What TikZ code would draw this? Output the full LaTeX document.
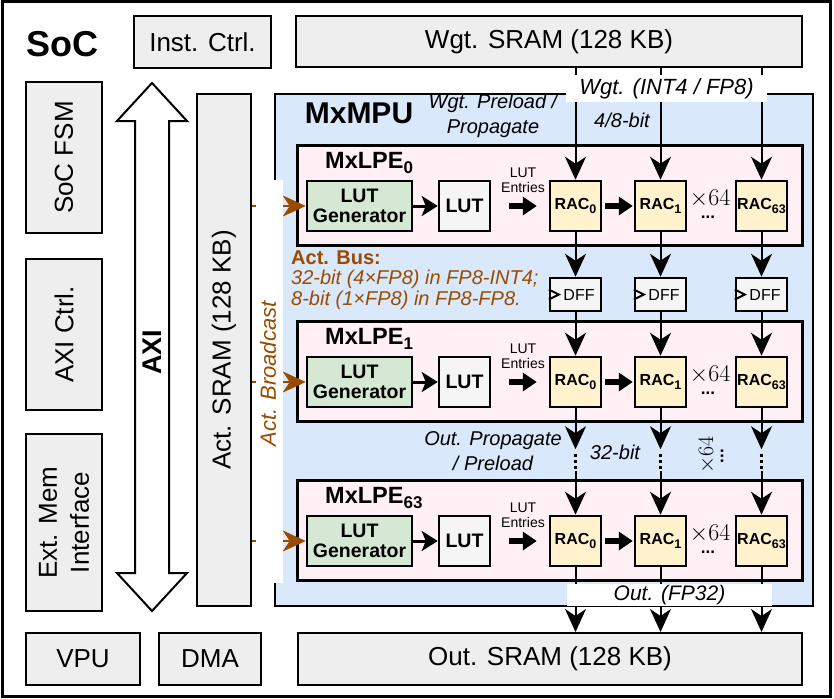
\RequirePackage{fix-cm}
\documentclass[tikz,border=0pt]{standalone}
\usepackage{fontspec}
\setmainfont{Liberation Sans}
\usetikzlibrary{arrows.meta, positioning, calc}
\definecolor{mpublue}{HTML}{DAE8FC}
\definecolor{lpepink}{HTML}{FFF0F5}
\definecolor{gengreen}{HTML}{D5E8D4}
\definecolor{racyellow}{HTML}{FFF2CC}
\definecolor{sysgray}{HTML}{EEEEEE}
\definecolor{lutgray}{HTML}{F5F5F5}
\definecolor{actbrown}{HTML}{994C00}
% lowered subscript in the text font
\newcommand{\lsub}[3]{\raisebox{-#1pt}{\fontsize{#2}{#2}\selectfont #3}}

\begin{document}
\begin{tikzpicture}[x=1pt, y=-1pt,
  sys/.style={draw=black, line width=2pt, fill=sysgray, inner sep=0pt, font=\fontsize{26}{32}\selectfont},
  blk/.style={draw=black, line width=2.5pt, inner sep=0pt, minimum width=51pt, minimum height=50pt},
  racbox/.style={blk, fill=racyellow, font=\fontsize{16}{16}\selectfont\bfseries},
  lpe/.style={draw=black, line width=3pt, fill=lpepink, minimum width=505pt, minimum height=100pt},
  wire/.style={line width=2pt, -{Stealth[length=23pt,width=21pt,inset=7pt]}},
  genarrow/.style={line width=3pt, -{Stealth[length=16pt,width=20pt,inset=4pt]}},
  fat/.style={line width=6pt, -{Triangle[length=14pt,width=18pt]}},
  tag/.style={fill=white, inner sep=0pt},
  note/.style={font=\fontsize{20}{25}\selectfont\itshape, align=center}
]
\useasboundingbox (0,0) rectangle (834,698);
\draw[line width=3pt] (2,2) rectangle (830,696);
\node[font=\fontsize{36}{36}\selectfont\bfseries] (soctitle) at (62,44) {SoC};

% SoC blocks
\node[sys, minimum width=137pt, minimum height=52pt] (inst) at (202.5,42) {Inst. Ctrl.};
\node[sys, minimum width=506pt, minimum height=51pt] (wsram) at (549,41.5) {Wgt. SRAM (128 KB)};
\node[sys, rotate=90, minimum width=151pt, minimum height=76pt] (fsm) at (64,157.5) {SoC FSM};
\node[sys, rotate=90, minimum width=151pt, minimum height=76pt] (axictrl) at (64,334.5) {AXI Ctrl.};
\node[sys, rotate=90, minimum width=177pt, minimum height=76pt, align=center] (extmem) at (64,522.5) {Ext. Mem\\Interface};
\node[sys, minimum width=114pt, minimum height=52pt] (vpu) at (83,659) {VPU};
\node[sys, minimum width=102pt, minimum height=52pt] (dma) at (210,659) {DMA};
\node[sys, minimum width=504pt, minimum height=52pt] (osram) at (550,659) {Out. SRAM (128 KB)};

% AXI bus
\draw[line width=2pt, fill=white] (152,83) -- (187,121) -- (169,121) -- (169,573) -- (187,573)
  -- (152,611) -- (117,573) -- (135,573) -- (135,121) -- (117,121) -- cycle;
\node[font=\fontsize{27}{27}\selectfont\bfseries, rotate=90] (axi) at (152,352) {AXI};
\node[sys, rotate=90, minimum width=512pt, minimum height=54pt] (actsram) at (224,350) {Act. SRAM (128 KB)};

% MxMPU
\node[draw=black, line width=2.5pt, fill=mpublue, minimum width=538pt, minimum height=512pt] (mpu) at (544,350) {};
\node[font=\fontsize{30}{30}\selectfont\bfseries] (mputitle) at (359,113) {MxMPU};
\node[note] (wpre) at (493,116) {Wgt. Preload /\\Propagate};
\node[note] (wbits) at (622,120) {4/8-bit};

\foreach \k/\t in {0/145, 1/321, 63/480} {
  \node[lpe] (lpe\k) at (549.5,\t+50) {};
  \node[font=\fontsize{23.5}{24}\selectfont\bfseries, anchor=base west, inner sep=0pt] (lpename\k) at (325,\t+23) {MxLPE\lsub{5}{17}{\k}};
  \node[blk, fill=gengreen, minimum width=105pt, align=center, font=\fontsize{19.5}{20}\selectfont\bfseries] (gen\k) at (359.5,\t+61) {LUT\\Generator};
  \node[blk, fill=lutgray, font=\fontsize{19.5}{20}\selectfont\bfseries] (lut\k) at (464.5,\t+61) {LUT};
  \node[font=\fontsize{14}{15}\selectfont, align=center] (ent\k) at (523,\t+35) {LUT\\Entries};
  \node[racbox] (racA\k) at (575.5,\t+61) {RAC\lsub{4}{12.5}{0}};
  \node[racbox] (racB\k) at (660.5,\t+61) {RAC\lsub{4}{12.5}{1}};
  \node[racbox] (racC\k) at (761.5,\t+61) {RAC\lsub{4}{12.5}{63}};
  \node[font=\fontsize{24}{24}\selectfont] (times\k) at (710,\t+54) {$\times 64$};
  \node[font=\fontsize{17}{17}\selectfont\bfseries] (dots\k) at (708,\t+72) {...};
  \draw[genarrow] (gen\k) -- (lut\k);
  \draw[fat] ([xshift=18pt]lut\k.east) -- ([xshift=-12pt]racA\k.west);
  \draw[fat] ([xshift=3pt]racA\k.east) -- ([xshift=-1pt]racB\k.west);
  \draw[wire, actbrown] (actsram.south |- gen\k.west) -- (gen\k.west);
}

% DFF stage
\foreach \c/\x in {A/575.5, B/660.5, C/761.5} {
  \node[blk, fill=lutgray, minimum height=33pt, font=\fontsize{16}{16}\selectfont] (dff\c) at (\x,294.5) {\hspace*{7pt}DFF};
  \draw[line width=2pt] ([yshift=5pt]dff\c.west) -- ++(10,5) -- ([yshift=-5pt]dff\c.west);
  \draw[wire] (wsram.south -| rac\c0.north) -- (rac\c0.north);
  \draw[wire] (rac\c0.south) -- (dff\c.north);
  \draw[wire] (dff\c.south) -- (rac\c1.north);
  \draw[wire] (rac\c1.south) -- ++(0,41) coordinate (pend\c);
  \draw[line width=3pt, dash pattern=on 3pt off 3pt] ([yshift=-5pt]pend\c) -- ++(0,17) coordinate (dend\c);
  \draw[wire] (dend\c) -- (rac\c63.north);
  \draw[wire] (rac\c63.south) -- (osram.north -| rac\c63.south);
}

\node[anchor=north west, align=left, inner sep=0pt, text=actbrown, font=\fontsize{20}{20.5}\selectfont] (actbus) at (291,250.5)
  {\textbf{Act. Bus:}\\\textit{32-bit (4×FP8) in FP8-INT4;}\\\textit{8-bit (1×FP8) in FP8-FP8.}};
\node[note] (outprop) at (493,451) {Out. Propagate\\/ Preload};
\node[note] (outbits) at (615,452) {32-bit};
\node[font=\fontsize{22}{22}\selectfont, rotate=90] (vtimes) at (707,455) {$\times 64$};
\node[font=\fontsize{17}{17}\selectfont\bfseries, rotate=90] (vdots) at (722,456) {...};

% labels over the wires
\node[tag, minimum width=27pt, minimum height=403pt] (bcast) at (269.5,381.5) {};
\node[rotate=90, text=actbrown, font=\fontsize{22}{22}\selectfont\itshape] (bcastlbl) at (268,374) {Act. Broadcast};
\node[tag, minimum width=201pt, minimum height=27pt, font=\fontsize{22}{22}\selectfont\itshape] (wgttag) at (666.5,88.5) {Wgt. (INT4 / FP8)};
\node[tag, minimum width=205pt, minimum height=22pt, font=\fontsize{21}{21}\selectfont\itshape] (outtag) at (669.5,595) {Out. (FP32)};
\end{tikzpicture}
\end{document}
